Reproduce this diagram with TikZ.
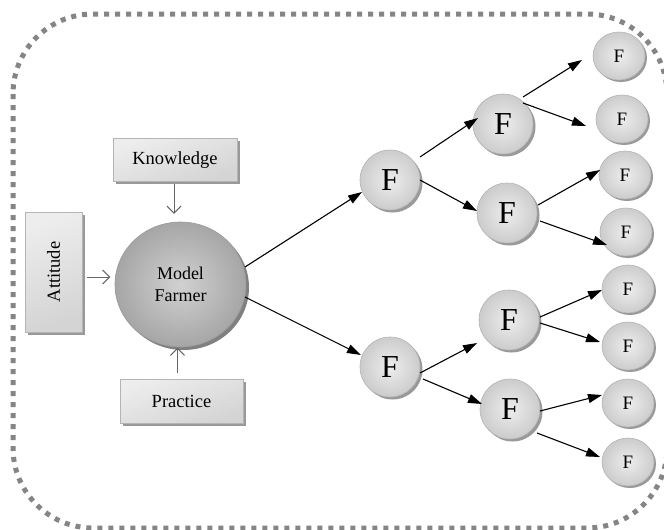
\documentclass[tikz,border=0pt]{standalone}
\usepackage{fontspec}
\setmainfont{Liberation Serif}
\usetikzlibrary{shapes.geometric,shadows,calc,arrows.meta}
\definecolor{dotgray}{HTML}{858585}
\definecolor{edgegray}{HTML}{B4B4B4}
\tikzset{
  lbox/.style={rectangle, draw=edgegray, line width=0.6pt, top color=white!93!black, bottom color=white!83!black,
    shading angle=20, drop shadow={shadow xshift=2.5pt, shadow yshift=-2.5pt, fill=black!40, opacity=1},
    font=\fontsize{18.5}{20}\selectfont, inner sep=0pt},
  fbig/.style={circle, draw=edgegray, line width=0.6pt, inner color=white!93!black, outer color=white!80!black,
    minimum size=60pt, inner sep=0pt, drop shadow={shadow xshift=2.5pt, shadow yshift=-2.5pt, fill=black!40, opacity=1},
    font=\fontsize{32}{34}\selectfont},
  fsmall/.style={ellipse, draw=edgegray, line width=0.6pt, inner color=white!93!black, outer color=white!80!black,
    minimum width=52pt, minimum height=48pt, inner sep=0pt, drop shadow={shadow xshift=2pt, shadow yshift=-2pt, fill=black!40, opacity=1},
    font=\fontsize{19}{20}\selectfont},
  mfarm/.style={ellipse, draw=black!40, line width=0.6pt, inner color=white!82!black, outer color=white!65!black,
    minimum width=131pt, minimum height=125pt, inner sep=0pt, drop shadow={shadow xshift=3pt, shadow yshift=-3pt, fill=black!50, opacity=1},
    font=\fontsize{18}{22}\selectfont, align=center},
  arr/.style={-{Triangle[length=14pt,width=9pt]}, line width=1.1pt, black},
  garr/.style={-{Straight Barb[length=7pt,width=14pt]}, line width=1pt, black!60},
  frame/.style={dotgray, line width=5pt, dash pattern=on 5pt off 6pt, rounded corners=80pt}
}
\begin{document}
\begin{tikzpicture}[x=1pt,y=-1pt]
\useasboundingbox (0,0) rectangle (664,530);
\fill[white] (0,0) rectangle (664,530);
\draw[frame] (13,14) rectangle (667,528);

% left side boxes
\node[lbox, minimum width=124pt, minimum height=43pt] (know) at (175,160) {Knowledge};
\node[lbox, minimum width=57pt, minimum height=120pt] (att) at (53.5,272) {\rotatebox{90}{Attitude}};
\node[lbox, minimum width=123pt, minimum height=44pt] (prac) at (181.5,401) {Practice};
\node[mfarm] (mf) at (180.5,284.5) {Model\\Farmer};

% F nodes
\node[fbig] (f1) at (390,180) {F};
\node[fbig] (f1b) at (390,367) {F};
\node[fbig] (f2a) at (503,124) {F};
\node[fbig] (f2b) at (507,213) {F};
\node[fbig] (f2c) at (509,320) {F};
\node[fbig] (f2d) at (510,409) {F};
\node[fsmall] (l1) at (619,56) {F};
\node[fsmall] (l2) at (622,119) {F};
\node[fsmall] (l3) at (625,175) {F};
\node[fsmall] (l4) at (626,232) {F};
\node[fsmall] (l5) at (628,289) {F};
\node[fsmall] (l6) at (628,346) {F};
\node[fsmall] (l7) at (628,403) {F};
\node[fsmall] (l8) at (628,462) {F};

% gray input arrows
\draw[garr] ($(know.south)+(-1,2)$) -- ($(know.south)+(-1,32)$);
\draw[garr] ($(att.east)+(5,5)$) -- ($(att.east)+(28,5)$);
\draw[garr] ($(prac.north)+(-4,-6)$) -- ($(prac.north)+(-4,-31)$);

% black arrows
\draw[arr] ($(mf)+(64.5,-17.5)$) -- ($(f1)+(-28,12)$);
\draw[arr] ($(mf)+(64.5,12.5)$) -- ($(f1b)+(-29,-12)$);
\draw[arr] ($(f1)+(30,-23)$) -- ($(f2a)+(-25,-6)$);
\draw[arr] ($(f1)+(30,0)$) -- ($(f2b)+(-30,-2)$);
\draw[arr] ($(f1b)+(30,6)$) -- ($(f2c)+(-32,23)$);
\draw[arr] ($(f1b)+(33,12)$) -- ($(f2d)+(-28,-5)$);
\draw[arr] ($(f2a)+(20,-27)$) -- ($(l1)+(-37,4)$);
\draw[arr] ($(f2a)+(20,-21)$) -- ($(l2)+(-36,7)$);
\draw[arr] ($(f2b)+(31,-8)$) -- ($(l3)+(-25,-5)$);
\draw[arr] ($(f2b)+(33,8)$) -- ($(l4)+(-19,13)$);
\draw[arr] ($(f2c)+(31,-3)$) -- ($(l5)+(-26,1)$);
\draw[arr] ($(f2c)+(31,3)$) -- ($(l6)+(-28,-4)$);
\draw[arr] ($(f2d)+(30,2)$) -- ($(l7)+(-26,-8)$);
\draw[arr] ($(f2d)+(27,24)$) -- ($(l8)+(-28,-5)$);
\end{tikzpicture}
\end{document}
